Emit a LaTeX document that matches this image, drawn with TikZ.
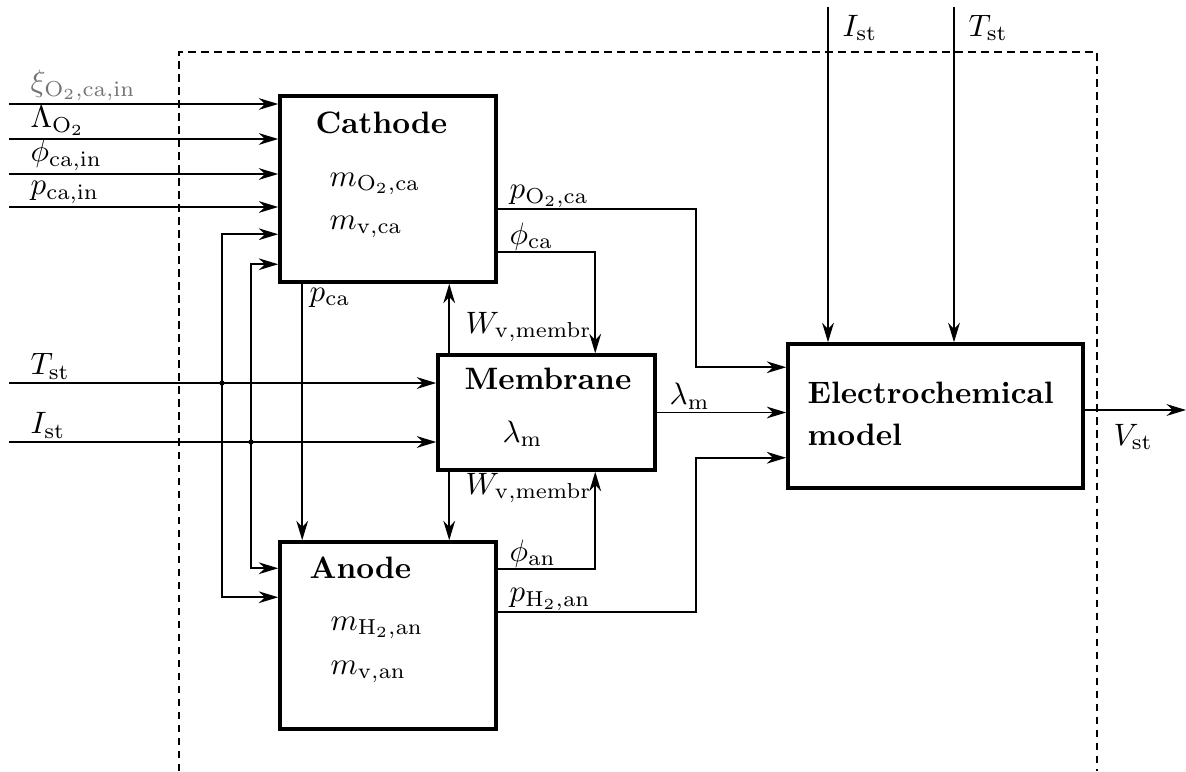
\documentclass[tikz,border=0pt]{standalone}
\usetikzlibrary{arrows.meta,positioning,calc}
\tikzset{
  >={Stealth[length=6.3pt,width=3.8pt]},
  block/.style={draw,line width=1.1pt,inner sep=0pt},
  frame/.style={line width=0.55pt,dash pattern=on 2.4pt off 1.8pt},
  sig/.style={->,line width=0.5pt},
  lbl/.style={anchor=south west,inner sep=1pt},
  title/.style={anchor=base west,inner sep=0pt,font=\bfseries},
  var/.style={anchor=base west,inner sep=0pt},
}
\begin{document}
\begin{tikzpicture}[x=0.01136cm,y=-0.01136cm]
  \useasboundingbox (0,0) rectangle (1186,771);
  % frame of the stack
  \draw[frame] (179,771) -- (179,52) -- (1097,52) -- (1097,771);
  % blocks
  \node[block,minimum width=2.454cm,minimum height=2.113cm] (cat) at (388,189) {};
  \node[block,minimum width=2.465cm,minimum height=1.306cm] (mem) at (546.5,412.5) {};
  \node[block,minimum width=2.454cm,minimum height=2.124cm] (an) at (388,635.5) {};
  \node[block,minimum width=3.351cm,minimum height=1.636cm] (el) at (935.5,416) {};
  % block texts
  \node[title] (catT) at (315,133) {Cathode};
  \node[var] (catO) at (329,186) {$m_{\mathrm{O_2,ca}}$};
  \node[var] (catV) at (329,229) {$m_{\mathrm{v,ca}}$};
  \node[title] (memT) at (464,389) {Membrane};
  \node[var] (memL) at (502,442) {$\lambda_{\mathrm{m}}$};
  \node[title] (anT) at (309,578) {Anode};
  \node[var] (anH) at (330,630) {$m_{\mathrm{H_2,an}}$};
  \node[var] (anV) at (330,674) {$m_{\mathrm{v,an}}$};
  \node[anchor=north west,inner sep=0pt,align=left,font=\bfseries] (elT) at (807,381)
    {Electrochemical\\[1.6pt]model};
  % inputs of the cathode
  \foreach \y/\t [count=\i] in {104/{\color{black!55}$\xi_{\mathrm{O_2,ca,in}}$},
      139/{$\Lambda_{\mathrm{O_2}}$},174/{$\phi_{\mathrm{ca,in}}$},207/{$p_{\mathrm{ca,in}}$}}{
    \coordinate (in\i) at (9,\y);
    \draw[sig] (in\i) -- (in\i -| cat.west);
    \node[lbl] (inL\i) at (27,\y) {\t};
  }
  % stack temperature and current
  \coordinate (inT) at (9,383);
  \coordinate (inI) at (9,442);
  \coordinate (jT) at (222,383);
  \coordinate (jI) at (251,442);
  \draw[sig] (inT) -- (inT -| mem.west);
  \draw[sig] (inI) -- (inI -| mem.west);
  \node[lbl] (lT) at (27,383) {$T_{\mathrm{st}}$};
  \node[lbl] (lI) at (27,442) {$I_{\mathrm{st}}$};
  \fill (jT) circle (0.85pt);
  \fill (jI) circle (0.85pt);
  \draw[sig] (jT) |- ($(cat.north west)+(0,140)$);
  \draw[sig] (jT) |- ($(an.north west)+(0,57)$);
  \draw[sig] (jI) |- ($(cat.north west)+(0,170)$);
  \draw[sig] (jI) |- ($(an.north west)+(0,28)$);
  % cathode pressure to anode
  \coordinate (pC) at ($(cat.south west)+(24,0)$);
  \draw[sig] (pC) -- (pC |- an.north);
  \node[lbl,anchor=north west] (lpca) at (306,284) {$p_{\mathrm{ca}}$};
  % water through the membrane
  \coordinate (wU) at ($(mem.north west)+(13,0)$);
  \coordinate (wD) at ($(mem.south west)+(13,0)$);
  \draw[sig] (wU) -- (wU |- cat.south);
  \draw[sig] (wD) -- (wD |- an.north);
  \node[lbl,anchor=west] (lwU) at (462,327) {$W_{\mathrm{v,membr}}$};
  \node[lbl,anchor=west] (lwD) at (462,488) {$W_{\mathrm{v,membr}}$};
  % humidities to the membrane
  \draw[sig] ($(cat.north east)+(0,158)$) -| ($(mem.north west)+(159,0)$);
  \draw[sig] ($(an.north east)+(0,29)$) -| ($(mem.south west)+(159,0)$);
  \node[lbl] (lphc) at (506,254) {$\phi_{\mathrm{ca}}$};
  \node[lbl] (lpha) at (506,571) {$\phi_{\mathrm{an}}$};
  % inputs of the electrochemical model
  \draw[sig] ($(cat.north east)+(0,115)$) -| ($(el.north west)+(-90,25)$) -- ($(el.north west)+(0,25)$);
  \draw[sig] (mem.east) -- (mem.east -| el.west);
  \draw[sig] ($(an.north east)+(0,72)$) -| ($(el.south west)+(-90,-32)$) -- ($(el.south west)+(0,-32)$);
  \node[lbl] (lpO) at (506,211) {$p_{\mathrm{O_2,ca}}$};
  \node[lbl] (llam) at (666,413) {$\lambda_{\mathrm{m}}$};
  \node[lbl] (lpH) at (506,614) {$p_{\mathrm{H_2,an}}$};
  \coordinate (topI) at (828,7);
  \coordinate (topT) at (954,7);
  \draw[sig] (topI) -- (topI |- el.north);
  \draw[sig] (topT) -- (topT |- el.north);
  \node[lbl,anchor=west] (lIt) at (839,28) {$I_{\mathrm{st}}$};
  \node[lbl,anchor=west] (lTt) at (965,28) {$T_{\mathrm{st}}$};
  % stack voltage
  \coordinate (vout) at (1186,410);
  \draw[sig] (vout -| el.east) -- (vout);
  \node[lbl,anchor=west] (lV) at (1110,437) {$V_{\mathrm{st}}$};
\end{tikzpicture}
\end{document}
